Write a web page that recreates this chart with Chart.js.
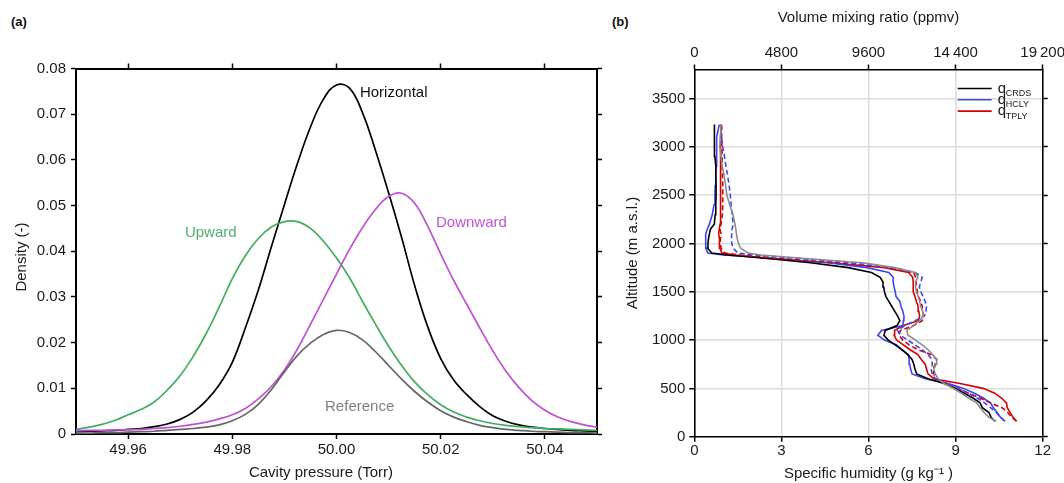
<!DOCTYPE html>
<html>
<head>
<meta charset="utf-8">
<script src="https://cdn.jsdelivr.net/npm/chart.js@4.4.1/dist/chart.umd.min.js"></script>
<style>
    body { margin: 0; width: 1064px; height: 483px; background: #fff; position: relative; overflow: hidden; font-family: "Liberation Sans", Arial, sans-serif; }
    #boxA { position: absolute; left: 0; top: 0; width: 620px; height: 483px; }
    #boxB { position: absolute; left: 620px; top: 0; width: 444px; height: 483px; }
    .painel { position: absolute; font-weight: bold; font-size: 13px; color: #111; }
</style>
</head>
<body>
<div class="painel" style="left:11px; top:14px;">(a)</div>
<div class="painel" style="left:612px; top:14px;">(b)</div>
<div id="boxA"><canvas id="chartA" width="620" height="483"></canvas></div>
<div id="boxB"><canvas id="chartB" width="444" height="483"></canvas></div>
<script>
// ---- panel (a): density of cavity pressure ----
const pressure = [49.95, 49.9525, 49.955, 49.9575, 49.96, 49.9625, 49.965, 49.9675, 49.97, 49.9725,
    49.975, 49.9775, 49.98, 49.9825, 49.985, 49.9875, 49.99, 49.9925, 49.995, 49.9975,
    50.00, 50.0025, 50.005, 50.0075, 50.01, 50.0125, 50.015, 50.0175, 50.02, 50.0225,
    50.025, 50.0275, 50.03, 50.0325, 50.035, 50.0375, 50.04, 50.0425, 50.045, 50.0475, 50.05];
const horizontal = [0.0005, 0.0006, 0.0007, 0.0008, 0.0010, 0.0012, 0.0016, 0.0022, 0.0032, 0.0048,
    0.0073, 0.0108, 0.0157, 0.0232, 0.0315, 0.0410, 0.0502, 0.0592, 0.0672, 0.0733,
    0.0764, 0.0757, 0.0703, 0.0620, 0.0528, 0.0430, 0.0325, 0.0235, 0.0165, 0.0118,
    0.0086, 0.0060, 0.0040, 0.0028, 0.0020, 0.0015, 0.0012, 0.0010, 0.0008, 0.0007, 0.0006];
const upward = [0.0010, 0.0015, 0.0021, 0.0030, 0.0042, 0.0054, 0.0070, 0.0096, 0.0128, 0.0170,
    0.0220, 0.0278, 0.0340, 0.0390, 0.0428, 0.0453, 0.0465, 0.0465, 0.0450, 0.0422,
    0.0385, 0.0342, 0.0290, 0.0240, 0.0192, 0.0150, 0.0114, 0.0086, 0.0064, 0.0048,
    0.0037, 0.0029, 0.0023, 0.0019, 0.0016, 0.0014, 0.0012, 0.0011, 0.0010, 0.0009, 0.0008];
const downward = [0.0007, 0.0008, 0.0008, 0.0009, 0.0009, 0.0010, 0.0012, 0.0014, 0.0017, 0.0021,
    0.0026, 0.0033, 0.0042, 0.0056, 0.0077, 0.0104, 0.0140, 0.0186, 0.0240, 0.0295,
    0.0350, 0.0404, 0.0452, 0.0492, 0.0520, 0.0527, 0.0505, 0.0455, 0.0394, 0.0336,
    0.0284, 0.0232, 0.0182, 0.0138, 0.0102, 0.0073, 0.0052, 0.0037, 0.0027, 0.0020, 0.0015];
const reference = [0.0002, 0.0002, 0.0003, 0.0003, 0.0004, 0.0005, 0.0006, 0.0008, 0.0010, 0.0012,
    0.0015, 0.0020, 0.0029, 0.0043, 0.0065, 0.0097, 0.0136, 0.0172, 0.0199, 0.0218,
    0.0227, 0.0222, 0.0206, 0.0180, 0.0150, 0.0120, 0.0093, 0.0070, 0.0051, 0.0037,
    0.0027, 0.0019, 0.0014, 0.0010, 0.0008, 0.0006, 0.0005, 0.0004, 0.0003, 0.0003, 0.0002];

const pressureTicks = [49.96, 49.98, 50.00, 50.02, 50.04];
const densityTicks = [0, 0.01, 0.02, 0.03, 0.04, 0.05, 0.06, 0.07, 0.08];

const curveNames = ['Horizontal', 'Upward', 'Downward', 'Reference'];
const curveColors = ['#000000', '#3fae5d', '#c24fd6', '#666666'];
const labelColors = ['#111111', '#4fb06a', '#c452d8', '#808080'];
const labelX = [50.0045, 49.9709, 50.0191, 49.9978];
const labelY = [0.0747, 0.0440, 0.0462, 0.0059];

// ---- panel (b): humidity profiles ----
const altitude = [160, 200, 250, 300, 350, 400, 450, 500, 550, 600, 650, 700, 750, 800, 850, 900, 950,
    1000, 1050, 1100, 1150, 1200, 1250, 1300, 1350, 1400, 1450, 1500, 1550, 1600, 1650, 1700,
    1750, 1800, 1850, 1880, 1900, 1950, 2000, 2050, 2100, 2150, 2200, 2300, 2400, 2500, 2600,
    2700, 2800, 2900, 3000, 3100, 3230];
const qCrds = [10.35, 10.22, 10.15, 9.92, 9.84, 9.60, 9.30, 9.00, 8.60, 8.05, 7.66, 7.60, 7.56, 7.50, 7.35, 7.15, 6.92,
    6.68, 6.53, 6.58, 6.98, 7.08, 7.00, 6.90, 6.80, 6.70, 6.60, 6.55, 6.52, 6.50, 6.40, 6.10,
    5.30, 4.00, 2.35, 1.15, 0.60, 0.46, 0.47, 0.49, 0.52, 0.56, 0.69, 0.72, 0.74, 0.75, 0.75,
    0.74, 0.74, 0.71, 0.70, 0.69, 0.69];
const qHcly = [10.70, 10.55, 10.43, 10.30, 10.20, 9.95, 9.65, 9.27, 8.75, 7.95, 7.50, 7.45, 7.42, 7.40, 7.37, 7.15, 6.97,
    6.55, 6.32, 6.45, 7.18, 7.20, 7.22, 7.18, 7.12, 7.08, 6.95, 6.92, 6.88, 6.85, 6.85, 6.70,
    5.95, 4.60, 2.60, 1.00, 0.46, 0.40, 0.39, 0.39, 0.40, 0.45, 0.52, 0.62, 0.68, 0.71, 0.72,
    0.74, 0.75, 0.76, 0.77, 0.78, 0.86];
const qTply = [11.10, 10.98, 10.88, 10.78, 10.75, 10.58, 10.35, 9.95, 9.15, 8.25, 8.05, 8.00, 7.95, 7.82, 7.70, 7.43, 7.20,
    6.97, 6.88, 6.90, 7.20, 7.72, 7.76, 7.73, 7.71, 7.65, 7.60, 7.54, 7.54, 7.54, 7.52, 7.38,
    6.55, 4.70, 2.40, 1.40, 0.95, 0.88, 0.87, 0.86, 0.84, 0.86, 0.89, 0.90, 0.91, 0.91, 0.90,
    0.90, 0.90, 0.90, 0.91, 0.91, 0.92];
const qTplyDash = [11.10, 10.93, 10.80, 10.60, 10.20, 9.85, 9.45, 9.05, 8.70, 8.30, 8.25, 8.22, 8.30, 8.35, 8.15, 7.70, 7.40,
    7.18, 7.05, 7.10, 7.55, 7.85, 7.89, 7.87, 7.85, 7.80, 7.72, 7.68, 7.66, 7.64, 7.62, 7.55,
    6.70, 4.90, 2.70, 1.60, 1.05, 0.92, 0.90, 0.90, 0.92, 0.88, 0.92, 0.97, 0.98, 0.98, 0.98,
    0.97, 0.96, 0.96, 0.95, 0.94, 0.95];
const qHclyDash = [10.70, 10.55, 10.40, 10.20, 10.00, 9.75, 9.45, 9.10, 8.70, 8.30, 8.20, 8.15, 8.20, 8.18, 8.05, 7.85, 7.60,
    7.35, 7.10, 7.00, 7.25, 7.60, 7.93, 7.98, 8.00, 7.95, 7.88, 7.80, 7.75, 7.80, 7.85, 7.60,
    6.80, 5.40, 3.40, 2.10, 1.50, 1.34, 1.29, 1.28, 1.29, 1.30, 1.34, 1.30, 1.27, 1.24, 1.20,
    1.15, 1.09, 1.04, 0.98, 0.94, 0.90];
const qGray = [10.40, 10.15, 9.98, 9.85, 9.72, 9.45, 9.20, 8.92, 8.60, 8.40, 8.30, 8.25, 8.33, 8.35, 8.20, 8.05, 7.85,
    7.62, 7.36, 7.32, 7.55, 7.75, 7.89, 7.86, 7.80, 7.76, 7.71, 7.65, 7.62, 7.62, 7.70, 7.60,
    6.90, 5.80, 3.60, 2.30, 1.85, 1.60, 1.52, 1.48, 1.45, 1.43, 1.40, 1.33, 1.22, 1.12, 1.08,
    1.03, 0.96, 0.92, 0.88, 0.90, 0.92];

const humidityTicks = [0, 3, 6, 9, 12];
const ppmvLabels = ['0', '4800', '9600', '14\u2009400', '19\u2009200'];
const altitudeTicks = [0, 500, 1000, 1500, 2000, 2500, 3000, 3500];
const legendNames = ['CRDS', 'HCLY', 'TPLY'];
const legendColors = ['#000000', '#3c46f5', '#d40000'];

Chart.defaults.font.family = '"Liberation Sans", Arial, sans-serif';
Chart.defaults.font.size = 15;
Chart.defaults.color = '#1a1a1a';

function pares(xs, ys) {
    return xs.map(function (v, i) { return { x: v, y: ys[i] }; });
}

function fixTicks(lista) {
    return function (scale) {
        scale.ticks = lista.map(function (v) { return { value: v }; });
    };
}

function fixSize(prop, valor) {
    return function (scale) {
        scale[prop] = valor;
        scale.paddingLeft = 0; scale.paddingRight = 0;
        scale.paddingTop = 0; scale.paddingBottom = 0;
    };
}

// curve names next to the curves, plus the two axis titles of panel (a)
const curveLabels = {
    id: 'curveLabels',
    afterDraw(chart) {
        const ctx = chart.ctx;
        const sx = chart.scales.x, sy = chart.scales.y;
        ctx.save();
        ctx.font = '15px "Liberation Sans", Arial, sans-serif';
        ctx.textAlign = 'left';
        ctx.textBaseline = 'middle';
        for (let i = 0; i < curveNames.length; i++) {
            ctx.fillStyle = labelColors[i];
            ctx.fillText(curveNames[i], sx.getPixelForValue(labelX[i]), sy.getPixelForValue(labelY[i]));
        }
        ctx.fillStyle = '#1a1a1a';
        ctx.textAlign = 'center';
        ctx.fillText('Cavity pressure (Torr)', 321, 473);
        ctx.translate(22, 257);
        ctx.rotate(-Math.PI / 2);
        ctx.fillText('Density (-)', 0, 0);
        ctx.restore();
    }
};

const legendB = {
    id: 'legendB',
    afterDraw(chart) {
        const ctx = chart.ctx, area = chart.chartArea;
        ctx.save();
        for (let i = 0; i < legendNames.length; i++) {
            const yy = area.top + 19 + i * 11.3;
            ctx.strokeStyle = legendColors[i];
            ctx.lineWidth = 1.6;
            ctx.beginPath();
            ctx.moveTo(area.right - 85, yy);
            ctx.lineTo(area.right - 51, yy);
            ctx.stroke();
            ctx.fillStyle = '#1a1a1a';
            ctx.textBaseline = 'alphabetic';
            ctx.font = '15px "Liberation Sans", Arial, sans-serif';
            ctx.fillText('q', area.right - 45, yy + 4);
            ctx.font = '9px "Liberation Sans", Arial, sans-serif';
            ctx.fillText(legendNames[i], area.right - 37, yy + 7.5);
        }
        ctx.restore();
    }
};

function curva(nome, valores, cor) {
    return {
        label: nome,
        data: pares(pressure, valores),
        borderColor: cor,
        borderWidth: 1.7,
        pointRadius: 0,
        showLine: true,
        tension: 0.4
    };
}

function perfil(nome, valores, cor, tracejado) {
    return {
        label: nome,
        data: pares(valores, altitude),
        borderColor: cor,
        borderWidth: 1.6,
        borderDash: tracejado ? [5, 3] : [],
        pointRadius: 0,
        showLine: true,
        tension: 0
    };
}

new Chart(document.getElementById('chartA'), {
    type: 'scatter',
    data: {
        datasets: [
            curva('Reference', reference, curveColors[3]),
            curva('Downward', downward, curveColors[2]),
            curva('Upward', upward, curveColors[1]),
            curva('Horizontal', horizontal, curveColors[0])
        ]
    },
    options: {
        responsive: false,
        animation: false,
        events: [],
        layout: { padding: 0, autoPadding: false },
        plugins: { legend: { display: false }, tooltip: { enabled: false } },
        scales: {
            x: {
                type: 'linear', position: 'bottom', min: 49.95, max: 50.05,
                afterBuildTicks: fixTicks(pressureTicks),
                afterFit: fixSize('height', 49),
                ticks: { callback: function (v) { return v.toFixed(2); }, padding: 2, maxRotation: 0, autoSkip: false },
                grid: { drawOnChartArea: false, tickLength: 5, tickColor: '#000', tickWidth: 1.5 },
                border: { color: '#000', width: 2 }
            },
            xTop: {
                type: 'linear', position: 'top', min: 49.95, max: 50.05,
                afterBuildTicks: fixTicks(pressureTicks),
                afterFit: fixSize('height', 68.5),
                ticks: { display: false },
                grid: { drawOnChartArea: false, tickLength: 5, tickColor: '#000', tickWidth: 1.5 },
                border: { color: '#000', width: 2 }
            },
            y: {
                type: 'linear', position: 'left', min: 0, max: 0.08,
                afterBuildTicks: fixTicks(densityTicks),
                afterFit: fixSize('width', 76),
                ticks: { callback: function (v) { return v === 0 ? '0' : v.toFixed(2); }, padding: 5 },
                grid: { drawOnChartArea: false, tickLength: 5, tickColor: '#000', tickWidth: 1.5 },
                border: { color: '#000', width: 2 }
            },
            yRight: {
                type: 'linear', position: 'right', min: 0, max: 0.08,
                afterBuildTicks: fixTicks(densityTicks),
                afterFit: fixSize('width', 23),
                ticks: { display: false },
                grid: { drawOnChartArea: false, tickLength: 5, tickColor: '#000', tickWidth: 1.5 },
                border: { color: '#000', width: 2 }
            }
        }
    },
    plugins: [curveLabels]
});

function gradeCor(limites) {
    return function (c) {
        if (c.tick && limites.indexOf(c.tick.value) >= 0) return 'rgba(0,0,0,0)';
        return '#dcdcdc';
    };
}

new Chart(document.getElementById('chartB'), {
    type: 'scatter',
    data: {
        datasets: [
            perfil('gray', qGray, '#8c8c8c', false),
            perfil('HCLY dashed', qHclyDash, '#3c46f5', true),
            perfil('TPLY dashed', qTplyDash, '#d40000', true),
            perfil('CRDS', qCrds, '#000000', false),
            perfil('HCLY', qHcly, '#3c46f5', false),
            perfil('TPLY', qTply, '#d40000', false)
        ]
    },
    options: {
        responsive: false,
        animation: false,
        events: [],
        layout: { padding: 0, autoPadding: false },
        plugins: { legend: { display: false }, tooltip: { enabled: false } },
        scales: {
            x: {
                type: 'linear', position: 'bottom', min: 0, max: 12,
                afterBuildTicks: fixTicks(humidityTicks),
                afterFit: fixSize('height', 46.3),
                ticks: { callback: function (v) { return String(v); }, padding: 0, maxRotation: 0, autoSkip: false },
                grid: { color: gradeCor([0, 12]), lineWidth: 1.5, tickLength: 5, tickColor: '#000', tickWidth: 1.5 },
                border: { color: '#000', width: 1.6 },
                title: { display: true, text: 'Specific humidity (g kg\u207B\u00B9 )', padding: { top: 0, bottom: 0 } }
            },
            xTop: {
                type: 'linear', position: 'top', min: 0, max: 12,
                afterBuildTicks: fixTicks(humidityTicks),
                afterFit: fixSize('height', 69.5),
                ticks: { callback: function (v, i) { return ppmvLabels[i]; }, padding: 3, maxRotation: 0, autoSkip: false },
                grid: { drawOnChartArea: false, tickLength: 5, tickColor: '#000', tickWidth: 1.5 },
                border: { color: '#000', width: 1.6 },
                title: { display: true, text: 'Volume mixing ratio (ppmv)', padding: { top: 9, bottom: 0 } }
            },
            y: {
                type: 'linear', position: 'left', min: 0, max: 3800,
                afterBuildTicks: fixTicks(altitudeTicks),
                afterFit: fixSize('width', 74.3),
                ticks: { callback: function (v) { return String(v); }, padding: 4 },
                grid: { color: gradeCor([0]), lineWidth: 1.5, tickLength: 5, tickColor: '#000', tickWidth: 1.5 },
                border: { color: '#000', width: 1.6 },
                title: { display: true, text: 'Altitude (m a.s.l.)', padding: { top: 4, bottom: 0 } }
            },
            yRight: {
                type: 'linear', position: 'right', min: 0, max: 3800,
                afterBuildTicks: fixTicks(altitudeTicks),
                afterFit: fixSize('width', 21.3),
                ticks: { display: false },
                grid: { drawOnChartArea: false, tickLength: 5, tickColor: '#000', tickWidth: 1.5 },
                border: { color: '#000', width: 1.6 }
            }
        }
    },
    plugins: [legendB]
});
</script>
</body>
</html>
